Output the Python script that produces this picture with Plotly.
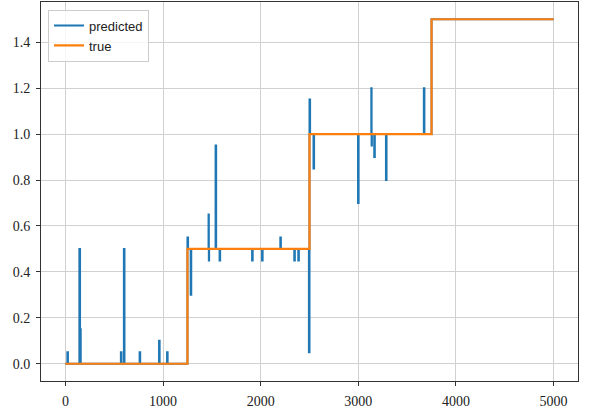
import plotly.graph_objects as go

# step points (hv shape): value holds from each x until the next one
true_x = [0, 1250, 2500, 3750, 5000]
true_y = [0.0, 0.5, 1.0, 1.5, 1.5]

pred_x = [
    0, 20, 26, 143, 150, 157, 568, 574, 599, 605, 760, 766, 959, 965, 1041, 1047,
    1250, 1256, 1283, 1289, 1466, 1469, 1472, 1538, 1544, 1579, 1585,
    1912, 1918, 2014, 2020, 2201, 2207, 2344, 2350, 2385, 2391,
    2494, 2500, 2506, 2541, 2547, 2997, 3003, 3133, 3136, 3139,
    3163, 3169, 3283, 3289, 3671, 3677, 3750, 5000,
]
pred_y = [
    0.0, 0.05, 0.0, 0.5, 0.15, 0.0, 0.05, 0.0, 0.5, 0.0, 0.05, 0.0, 0.1, 0.0, 0.05, 0.0,
    0.55, 0.5, 0.3, 0.5, 0.65, 0.45, 0.5, 0.95, 0.5, 0.45, 0.5,
    0.45, 0.5, 0.45, 0.5, 0.55, 0.5, 0.45, 0.5, 0.45, 0.5,
    0.05, 1.15, 1.0, 0.85, 1.0, 0.7, 1.0, 1.2, 0.95, 1.0,
    0.9, 1.0, 0.8, 1.0, 1.2, 1.0, 1.5, 1.5,
]

x_ticks = [0, 1000, 2000, 3000, 4000, 5000]
y_ticks = [0.0, 0.2, 0.4, 0.6, 0.8, 1.0, 1.2, 1.4]

fig = go.Figure()

fig.add_trace(
    go.Scatter(
        x=pred_x,
        y=pred_y,
        mode="lines",
        name="predicted",
        line=dict(color="#1f77b4", width=2, shape="hv"),
    )
)
fig.add_trace(
    go.Scatter(
        x=true_x,
        y=true_y,
        mode="lines",
        name="true",
        line=dict(color="#ff7f0e", width=2.2, shape="hv"),
    )
)

axis_style = dict(
    automargin=False,
    showgrid=True,
    gridcolor="#d0d0d0",
    gridwidth=1,
    zeroline=False,
    showline=True,
    linecolor="#333333",
    linewidth=1,
    mirror=True,
    ticks="outside",
    ticklen=4,
    tickcolor="#333333",
    ticklabelstandoff=3,
    tickfont=dict(family="'Liberation Serif', serif", size=14, color="#222222"),
)

fig.update_xaxes(range=[-250, 5250], tickvals=x_ticks, **axis_style)
fig.update_yaxes(
    range=[-0.075, 1.575], tickvals=y_ticks, tickformat=".1f", **axis_style
)

fig.update_layout(
    width=598,
    height=417,
    margin=dict(l=41, r=20, t=2, b=36, autoexpand=False),
    plot_bgcolor="white",
    paper_bgcolor="white",
    showlegend=True,
    legend=dict(
        x=0.013,
        y=0.98,
        xanchor="left",
        yanchor="top",
        bgcolor="rgba(255,255,255,0.8)",
        bordercolor="#cccccc",
        borderwidth=1,
        font=dict(family="Liberation Sans", size=13, color="#222222"),
        tracegroupgap=0,
    ),
)

# drop the default page margin so the figure sits at the window's corner
fig.write_html(
    "out.html",
    config={"displayModeBar": False},
    post_script="document.body.style.margin = '0';",
)
